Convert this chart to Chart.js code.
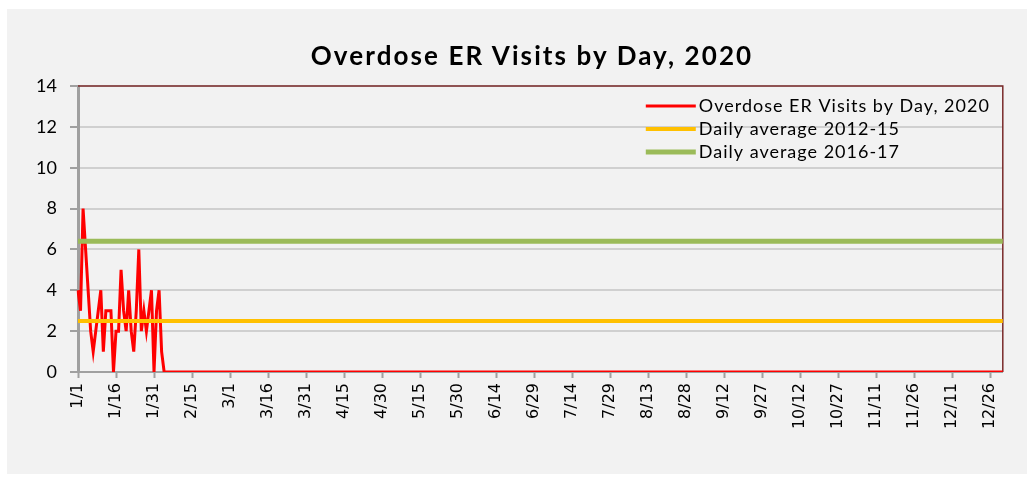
<!DOCTYPE html>
<html>
<head>
<meta charset="utf-8">
<script src="https://cdn.jsdelivr.net/npm/chart.js@4.4.0/dist/chart.umd.min.js"></script>
<style>
  body { margin: 0; background: #ffffff; }
  #panel { position: absolute; left: 7px; top: 9px; width: 1020px; height: 465px; background: #f2f2f2; }
  #title { position: absolute; left: 0; width: 1050px; top: 30px; text-align: center;
           font: bold 26px Lato, sans-serif; letter-spacing: 2.1px; color: #000; }
</style>
</head>
<body>
<div id="panel">
  <canvas id="odChart"></canvas>
  <div id="title">Overdose ER Visits by Day, 2020</div>
</div>
<script>
const seriesNames = ['Overdose ER Visits by Day, 2020', 'Daily average 2012-15', 'Daily average 2016-17'];
const daysInMonth = [31, 29, 31, 30, 31, 30, 31, 31, 30, 31, 30, 31];
const tickLabels = ['1/1', '1/16', '1/31', '2/15', '3/1', '3/16', '3/31', '4/15', '4/30', '5/15', '5/30',
    '6/14', '6/29', '7/14', '7/29', '8/13', '8/28', '9/12', '9/27', '10/12', '10/27', '11/11', '11/26',
    '12/11', '12/26'];

// 1/1 - 2/3
const earlyVisits = [4, 3, 8, 6, 4, 2, 1, 2, 3, 4, 1, 3, 3, 3, 0, 2, 2, 5, 3, 2,
    4, 2, 1, 3, 6, 2, 3, 2, 3, 4, 0, 3, 4, 1];
// rest of the year sits at 0
const laterVisits = [
    0,0,0,0,0,0,0,0,0,0, 0,0,0,0,0,0,0,0,0,0,
    0,0,0,0,0,0,0,0,0,0, 0,0,0,0,0,0,0,0,0,0,
    0,0,0,0,0,0,0,0,0,0, 0,0,0,0,0,0,0,0,0,0,
    0,0,0,0,0,0,0,0,0,0, 0,0,0,0,0,0,0,0,0,0,
    0,0,0,0,0,0,0,0,0,0, 0,0,0,0,0,0,0,0,0,0,
    0,0,0,0,0,0,0,0,0,0, 0,0,0,0,0,0,0,0,0,0,
    0,0,0,0,0,0,0,0,0,0, 0,0,0,0,0,0,0,0,0,0,
    0,0,0,0,0,0,0,0,0,0, 0,0,0,0,0,0,0,0,0,0,
    0,0,0,0,0,0,0,0,0,0, 0,0,0,0,0,0,0,0,0,0,
    0,0,0,0,0,0,0,0,0,0, 0,0,0,0,0,0,0,0,0,0,
    0,0,0,0,0,0,0,0,0,0, 0,0,0,0,0,0,0,0,0,0,
    0,0,0,0,0,0,0,0,0,0, 0,0,0,0,0,0,0,0,0,0,
    0,0,0,0,0,0,0,0,0,0, 0,0,0,0,0,0,0,0,0,0,
    0,0,0,0,0,0,0,0,0,0, 0,0,0,0,0,0,0,0,0,0,
    0,0,0,0,0,0,0,0,0,0, 0,0,0,0,0,0,0,0,0,0,
    0,0,0,0,0,0,0,0,0,0, 0,0,0,0,0,0,0,0,0,0,
    0,0,0,0,0,0,0,0,0,0, 0,0
];
const avg2012to15 = 2.5;
const avg2016to17 = 6.4;

const days = [];
daysInMonth.forEach((n, m) => {
    for (let d = 1; d <= n; d++) days.push((m + 1) + '/' + d);
});
const visits = earlyVisits.concat(laterVisits);

// plot frame + legend drawn inside the plot area
const plotExtras = {
    id: 'plotExtras',
    beforeDatasetsDraw(chart) {
        const { ctx, chartArea: a } = chart;
        ctx.save();
        ctx.strokeStyle = '#7a2a2a';
        ctx.lineWidth = 1.5;
        ctx.beginPath();
        ctx.moveTo(a.left, a.top);
        ctx.lineTo(a.right, a.top);
        ctx.lineTo(a.right, a.bottom);
        ctx.stroke();
        ctx.restore();
    },
    afterDatasetsDraw(chart) {
        const { ctx, chartArea: a } = chart;
        ctx.save();
        ctx.font = '18px Lato, sans-serif';
        ctx.letterSpacing = '1px';
        ctx.textBaseline = 'middle';
        ctx.fillStyle = '#000';
        chart.data.datasets.forEach((ds, i) => {
            const x = a.right - 357;
            const y = a.top + 20 + i * 23;
            ctx.strokeStyle = ds.borderColor;
            ctx.lineWidth = ds.borderWidth;
            ctx.beginPath();
            ctx.moveTo(x, y);
            ctx.lineTo(x + 50, y);
            ctx.stroke();
            ctx.fillText(ds.label, x + 53, y);
        });
        ctx.restore();
    }
};

new Chart(document.getElementById('odChart'), {
    type: 'line',
    data: {
        labels: days,
        datasets: [
            { label: seriesNames[0], data: visits, borderColor: '#ff0000', borderWidth: 3, order: 2 },
            { label: seriesNames[1], data: days.map(() => avg2012to15), borderColor: '#ffc000', borderWidth: 4, order: 1 },
            { label: seriesNames[2], data: days.map(() => avg2016to17), borderColor: '#9bbb59', borderWidth: 5, order: 0 }
        ]
    },
    options: {
        responsive: true,
        maintainAspectRatio: false,
        animation: false,
        layout: { padding: { top: 77, right: 19, left: 0, bottom: 0 } },
        elements: { point: { radius: 0 }, line: { tension: 0 } },
        plugins: {
            legend: { display: false },
            tooltip: { enabled: false }
        },
        scales: {
            x: {
                afterFit: s => { s.height = 102; },
                border: { color: '#a0a0a0', width: 2 },
                grid: {
                    drawOnChartArea: false,
                    tickLength: 6,
                    tickWidth: 2,
                    tickColor: c => tickLabels.includes(days[c.index]) ? '#a0a0a0' : 'transparent'
                },
                ticks: {
                    autoSkip: false,
                    minRotation: 90,
                    maxRotation: 90,
                    padding: 5,
                    color: '#000',
                    font: { family: 'DejaVu Sans', size: 16 },
                    callback: function (v) {
                        const l = this.getLabelForValue(v);
                        return tickLabels.includes(l) ? l : '';
                    }
                }
            },
            y: {
                min: 0,
                max: 14,
                afterFit: s => { s.width = 71; },
                border: { color: '#a0a0a0', width: 3 },
                grid: { color: '#d0d0d0', lineWidth: 2, tickLength: 8, tickColor: '#a0a0a0' },
                ticks: {
                    stepSize: 2,
                    padding: 13,
                    color: '#000',
                    font: { family: 'Lato', size: 18 }
                }
            }
        }
    },
    plugins: [plotExtras]
});
</script>
</body>
</html>
